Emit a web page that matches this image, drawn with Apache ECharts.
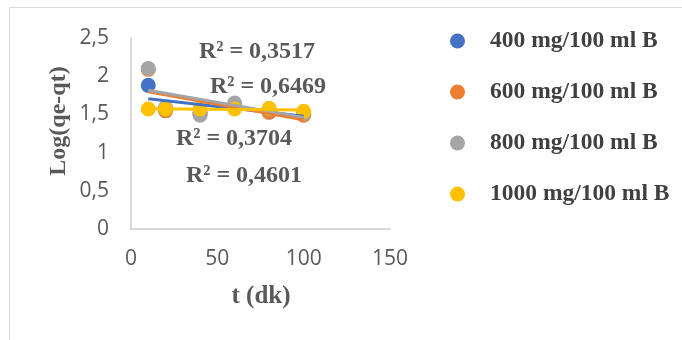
<!DOCTYPE html>
<html><head><meta charset="utf-8">
<script src="https://cdn.jsdelivr.net/npm/echarts@6/dist/echarts.min.js"></script>
<style>html,body{margin:0;padding:0;background:#fff}#c{width:682px;height:340px}</style>
</head><body><div id="c"></div>
<script>
const times = [10, 20, 40, 60, 80, 100];
const seriesNames = ['400 mg/100 ml B', '600 mg/100 ml B', '800 mg/100 ml B', '1000 mg/100 ml B'];
const s400 = [1.88, 1.55, 1.52, 1.60, 1.53, 1.51];
const s600 = [2.09, 1.55, 1.50, 1.60, 1.53, 1.49];
const s800 = [2.10, 1.59, 1.49, 1.65, 1.57, 1.51];
const s1000 = [1.57, 1.57, 1.57, 1.57, 1.58, 1.54];
const r2Labels = ['R² = 0,3517', 'R² = 0,6469', 'R² = 0,3704', 'R² = 0,4601'];
const xTicks = [0, 50, 100, 150];
const yTicks = [0, 0.5, 1, 1.5, 2, 2.5];
const xTitle = 't (dk)';
const yTitle = 'Log(qe-qt)';
const colors = ['#4472C4', '#ED7D31', '#A5A5A5', '#FFC000'];

function fit(xs, ys) {
  const n = xs.length;
  const mx = xs.reduce((a, b) => a + b, 0) / n;
  const my = ys.reduce((a, b) => a + b, 0) / n;
  let sxy = 0, sxx = 0;
  for (let i = 0; i < n; i++) { sxy += (xs[i] - mx) * (ys[i] - my); sxx += (xs[i] - mx) ** 2; }
  const b = sxy / sxx, a = my - b * mx;
  const x0 = xs[0], x1 = xs[n - 1];
  return [[x0, a + b * x0], [x1, a + b * x1]];
}

const all = [s400, s600, s800, s1000];
const series = [];
all.forEach((ys, i) => {
  series.push({
    name: seriesNames[i], type: 'scatter', symbol: 'circle', symbolSize: 15,
    itemStyle: { color: colors[i], opacity: 1 }, z: 2,
    data: times.map((t, k) => [t, ys[k]])
  });
});
all.forEach((ys, i) => {
  series.push({
    name: 'trend' + i, type: 'line', showSymbol: false, symbol: 'none',
    lineStyle: { color: colors[i], width: 3 }, z: 3, silent: true,
    data: fit(times, ys)
  });
});

const fmt = v => String(v).replace('.', ',');
const serif = '"Liberation Serif", "Times New Roman", serif';
const chart = echarts.init(document.getElementById('c'));
chart.setOption({
  animation: false,
  backgroundColor: '#fff',
  grid: { left: 131, right: 292, top: 38, bottom: 111 },
  xAxis: {
    type: 'value', min: xTicks[0], max: xTicks[xTicks.length - 1], interval: 50,
    axisLine: { show: true, onZero: false, lineStyle: { color: '#D9D9D9', width: 2 } },
    axisTick: { show: false }, splitLine: { show: false },
    axisLabel: { color: '#595959', fontSize: 21, fontFamily: 'Open Sans', margin: 20, formatter: fmt }
  },
  yAxis: {
    type: 'value', min: yTicks[0], max: yTicks[yTicks.length - 1], interval: 0.5,
    axisLine: { show: true, lineStyle: { color: '#D9D9D9', width: 2 } },
    axisTick: { show: false }, splitLine: { show: false },
    axisLabel: { color: '#595959', fontSize: 21, fontFamily: 'Open Sans', margin: 22, formatter: fmt }
  },
  legend: {
    orient: 'vertical', left: 445, top: 24, itemGap: 27,
    itemWidth: 15, itemHeight: 15, icon: 'circle',
    data: seriesNames,
    textStyle: { color: '#404040', fontSize: 23.5, fontWeight: 'bold', fontFamily: serif, padding: [0, 0, 0, 20] }
  },
  graphic: [
    { type: 'rect', left: 7, top: 5, shape: { width: 700, height: 360 }, style: { fill: 'none', stroke: '#D9D9D9', lineWidth: 1 }, silent: true },
    { type: 'text', x: 261, y: 297, style: { text: xTitle, align: 'center', verticalAlign: 'middle', fill: '#595959', font: 'bold 25px ' + serif } },
    { type: 'text', x: 59, y: 121, rotation: Math.PI / 2, style: { text: yTitle, align: 'center', verticalAlign: 'middle', fill: '#595959', font: 'bold 24px ' + serif } },
    { type: 'text', x: 257, y: 52, style: { text: r2Labels[0], align: 'center', verticalAlign: 'middle', fill: '#595959', font: 'bold 24px ' + serif }, z: 10 },
    { type: 'text', x: 268, y: 87, style: { text: r2Labels[1], align: 'center', verticalAlign: 'middle', fill: '#595959', font: 'bold 24px ' + serif }, z: 10 },
    { type: 'text', x: 234, y: 139, style: { text: r2Labels[2], align: 'center', verticalAlign: 'middle', fill: '#595959', font: 'bold 24px ' + serif }, z: 10 },
    { type: 'text', x: 244, y: 176, style: { text: r2Labels[3], align: 'center', verticalAlign: 'middle', fill: '#595959', font: 'bold 24px ' + serif }, z: 10 }
  ],
  series: series
});
</script></body></html>
